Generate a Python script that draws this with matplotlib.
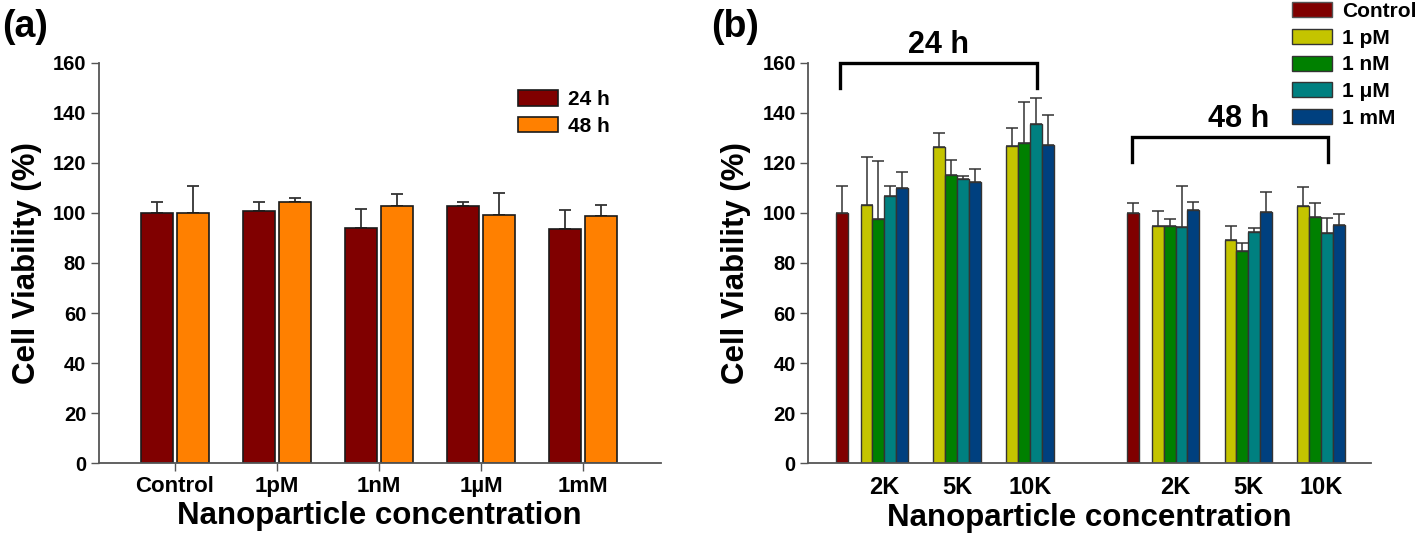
import matplotlib
matplotlib.use('Agg')
import matplotlib.pyplot as plt
from matplotlib.patches import Patch
import numpy as np

plt.rcParams['font.family'] = ['Liberation Sans', 'DejaVu Sans']
plt.rcParams['font.weight'] = 'bold'
plt.rcParams['axes.labelweight'] = 'bold'

# ---------------- Panel (a) data ----------------
conc_a = ['Control', '1pM', '1nM', '1\u00b5M', '1mM']
a_24h = [99.8, 100.8, 94.1, 102.8, 93.6]
a_24h_err = [4.7, 3.7, 7.3, 1.6, 7.6]
a_48h = [100.0, 104.5, 102.9, 99.3, 98.9]
a_48h_err = [10.7, 1.6, 4.8, 8.6, 4.3]
series_a = ['24 h', '48 h']

# ---------------- Panel (b) data ----------------
times_b = ['24 h', '48 h']
sizes_b = ['2K', '5K', '10K']
conc_b = ['1 pM', '1 nM', '1 \u03bcM', '1 mM']
ctrl_b = [99.8, 99.8]
ctrl_b_err = [11.1, 4.2]
# rows: 1 pM, 1 nM, 1 uM, 1 mM ; columns: 2K, 5K, 10K
b24_vals = [[103.2, 126.2, 126.8],
            [97.4, 115.1, 127.9],
            [106.6, 113.4, 135.5],
            [109.8, 112.2, 127.2]]
b24_errs = [[19.2, 5.6, 7.2],
            [23.4, 6.0, 16.3],
            [4.3, 1.5, 10.5],
            [6.4, 5.2, 12.0]]
b48_vals = [[94.9, 89.2, 102.9],
            [94.8, 84.8, 98.5],
            [94.5, 92.3, 91.9],
            [101.2, 100.2, 95.2]]
b48_errs = [[5.7, 5.6, 7.3],
            [2.6, 3.3, 5.3],
            [16.2, 1.8, 5.9],
            [3.3, 8.1, 4.4]]

# ---------------- styles ----------------
c_ctrl = '#800000'
c_orange = '#FF8000'
conc_colors = ['#C4C400', '#008000', '#008080', '#00407F']
axis_col = '#555555'
err_col = '#333333'
ytick_fs = 14.5
label_fs = 22.5

W, H = 1418, 534
fig = plt.figure(figsize=(W / 100, H / 100), dpi=100)

def style_axes(ax):
    for s in ['top', 'right']:
        ax.spines[s].set_visible(False)
    for s in ['left', 'bottom']:
        ax.spines[s].set_color(axis_col)
        ax.spines[s].set_linewidth(1.3)
    ax.set_ylim(0, 160)
    ax.set_yticks(np.arange(0, 161, 20))
    ax.tick_params(axis='y', direction='out', length=6, width=1, color=axis_col,
                   labelsize=ytick_fs, pad=3)
    for lab in ax.get_yticklabels():
        lab.set_fontweight('bold')

# ---------------- Panel (a) ----------------
ax1 = fig.add_axes([98.7 / W, 70.7 / H, (660.8 - 98.7) / W, 400.6 / H])
x = np.arange(len(conc_a))
w = 0.317
off = 0.174
for vals, errs, col, sgn, lab in [(a_24h, a_24h_err, c_ctrl, -1, series_a[0]),
                                  (a_48h, a_48h_err, c_orange, 1, series_a[1])]:
    ax1.bar(x + sgn * off, vals, w, color=col, edgecolor='#1a1a1a', linewidth=1.2,
            label=lab, zorder=2)
    ax1.errorbar(x + sgn * off, vals, yerr=[np.zeros(len(vals)), errs], fmt='none',
                 ecolor=err_col, elinewidth=1.3, capsize=4.3, capthick=1.3, zorder=1)
style_axes(ax1)
ax1.set_xlim(-0.748, 4.763)
ax1.set_xticks(x)
ax1.set_xticklabels(conc_a, fontsize=16, fontweight='bold')
ax1.tick_params(axis='x', direction='out', length=6, width=1, color=axis_col, pad=3)
ax1.set_ylabel('Cell Viability (%)', fontsize=label_fs, fontweight='bold', labelpad=8)
ax1.set_xlabel('Nanoparticle concentration', fontsize=label_fs, fontweight='bold', labelpad=3)
leg1 = ax1.legend(loc='upper left', bbox_to_anchor=(518 / W, 1 - 90 / H),
                  bbox_transform=fig.transFigure, frameon=False, fontsize=15,
                  handlelength=1.92, handleheight=0.77, handletextpad=0.48,
                  labelspacing=0.37, borderpad=0, borderaxespad=0)
for t in leg1.get_texts():
    t.set_fontweight('bold')

# ---------------- Panel (b) ----------------
ax2 = fig.add_axes([808.3 / W, 70.7 / H, (1370.7 - 808.3) / W, 400.6 / H])
block_start = [0.0, 4.0]
size_offset = 0.585
wb = 0.1635
tick_pos = []
tick_lab = []
for t, (b, vals, errs) in enumerate(zip(block_start, [b24_vals, b48_vals], [b24_errs, b48_errs])):
    ax2.bar([b], [ctrl_b[t]], wb, color=c_ctrl, edgecolor='#333333', linewidth=1, zorder=2)
    ax2.errorbar([b], [ctrl_b[t]], yerr=[[0], [ctrl_b_err[t]]], fmt='none', ecolor=err_col,
                 elinewidth=1.1, capsize=4.3, capthick=1.1, zorder=1)
    for k, sz in enumerate(sizes_b):
        center = b + size_offset + k
        tick_pos.append(center)
        tick_lab.append(sz)
        for j in range(len(conc_b)):
            xp = center + (j - 1.5) * wb
            ax2.bar([xp], [vals[j][k]], wb, color=conc_colors[j], edgecolor='#333333',
                    linewidth=1, zorder=2)
            ax2.errorbar([xp], [vals[j][k]], yerr=[[0], [errs[j][k]]], fmt='none',
                         ecolor=err_col, elinewidth=1.1, capsize=4.3, capthick=1.1, zorder=1)
style_axes(ax2)
ax2.set_xlim(-0.46, 7.265)
ax2.set_xticks(tick_pos)
ax2.set_xticklabels(tick_lab, fontsize=17, fontweight='bold')
ax2.tick_params(axis='x', length=0, pad=9)
ax2.set_ylabel('Cell Viability (%)', fontsize=label_fs, fontweight='bold', labelpad=8)
ax2.set_xlabel('Nanoparticle concentration', fontsize=label_fs, fontweight='bold', labelpad=3)

# brackets with time labels
bracket_top = [160.0, 130.4]
bracket_drop = 10.0
label_shift = [0.0, 0.12]
for t, b in enumerate(block_start):
    xl, xr = b - 0.02, b + 2.685
    yt = bracket_top[t]
    ax2.plot([xl, xl, xr, xr], [yt - bracket_drop, yt, yt, yt - bracket_drop],
             color='black', lw=2.4, clip_on=False, solid_joinstyle='miter', zorder=4)
    ax2.text((xl + xr) / 2 + label_shift[t], yt + 4.0, times_b[t], ha='center', va='baseline',
             fontsize=22, fontweight='bold', clip_on=False)

handles = [Patch(facecolor=c_ctrl, edgecolor='#555555', label='Control')]
handles += [Patch(facecolor=c, edgecolor='#333333', label=l) for c, l in zip(conc_colors, conc_b)]
leg2 = fig.legend(handles=handles, loc='upper left', bbox_to_anchor=(1291.7 / W, 1 - 2 / H),
                  frameon=False, fontsize=15, handlelength=1.92, handleheight=0.72,
                  handletextpad=0.5, labelspacing=0.37, borderpad=0, borderaxespad=0)
for t in leg2.get_texts():
    t.set_fontweight('bold')

fig.text(2 / W, 1 - 9 / H, '(a)', fontsize=27, fontweight='bold', ha='left', va='top')
fig.text(711 / W, 1 - 9 / H, '(b)', fontsize=27, fontweight='bold', ha='left', va='top')

fig.savefig('out.png', dpi=100)
